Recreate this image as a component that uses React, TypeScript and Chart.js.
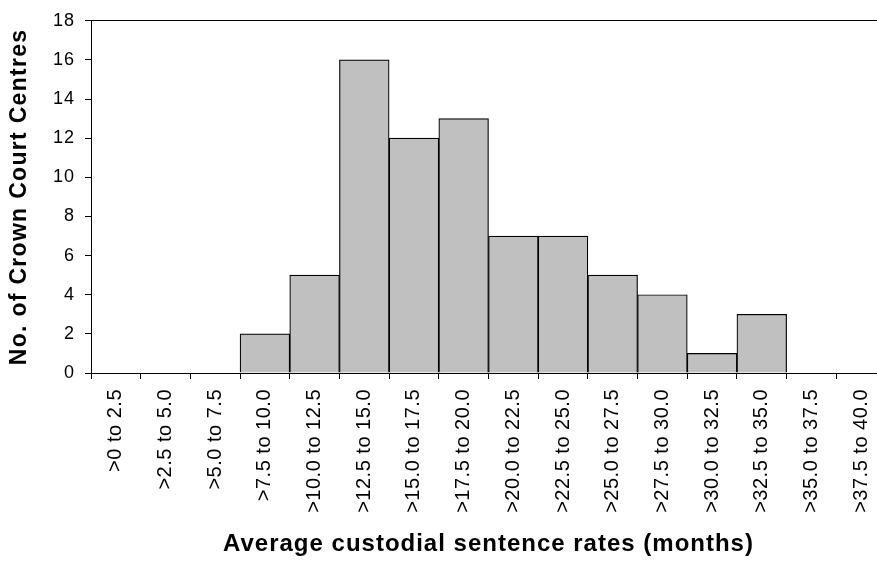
import React, { useEffect, useRef } from "react";
import { Chart, registerables } from "chart.js";

Chart.register(...registerables);

const categories = [
  ">0 to 2.5", ">2.5 to 5.0", ">5.0 to 7.5", ">7.5 to 10.0",
  ">10.0 to 12.5", ">12.5 to 15.0", ">15.0 to 17.5", ">17.5 to 20.0",
  ">20.0 to 22.5", ">22.5 to 25.0", ">25.0 to 27.5", ">27.5 to 30.0",
  ">30.0 to 32.5", ">32.5 to 35.0", ">35.0 to 37.5", ">37.5 to 40.0",
];
const centreCounts = [0, 0, 0, 2, 5, 16, 12, 13, 7, 7, 5, 4, 1, 3, 0, 0];
const yMin = 0;
const yMax = 18;
const yStep = 2;
const xTitle = "Average custodial sentence rates (months)";
const yTitle = "No. of Crown Court Centres";

const FONT = "'Liberation Sans', Arial, Helvetica, sans-serif";

const spacingPlugin = {
  id: "letterSpacingPlugin",
  beforeDraw(chart: any) {
    const wrap = (scale: any, fn: string, sp: string) => {
      if (!scale) return;
      const key = "__wrapped_" + fn;
      if (scale[key]) return;
      const orig = scale[fn].bind(scale);
      scale[fn] = (...args: any[]) => {
        const ctx = chart.ctx;
        ctx.save();
        (ctx as any).letterSpacing = sp;
        orig(...args);
        ctx.restore();
      };
      scale[key] = true;
    };
    wrap(chart.scales.x, "drawLabels", "0.5px");
    wrap(chart.scales.x, "drawTitle", "1px");
    wrap(chart.scales.y, "drawLabels", "1px");
    wrap(chart.scales.y, "drawTitle", "1.3px");
  },
};

export default function App() {
  const ref = useRef<HTMLCanvasElement | null>(null);

  useEffect(() => {
    if (!ref.current) return;
    const chart = new Chart(ref.current, {
      type: "bar",
      data: {
        labels: categories,
        datasets: [
          {
            data: centreCounts,
            backgroundColor: "#C0C0C0",
            borderColor: "#000000",
            borderWidth: 1.2,
            barPercentage: 1,
            categoryPercentage: 1,
          },
        ],
      },
      plugins: [spacingPlugin],
      options: {
        animation: false,
        responsive: false,
        devicePixelRatio: 1,
        layout: { padding: { left: 0, top: 19, right: 14, bottom: 0 } },
        plugins: {
          legend: { display: false },
          tooltip: { enabled: false },
          title: { display: false },
        },
        scales: {
          x: {
            type: "category",
            position: "bottom",
            offset: true,
            afterFit: (s: any) => {
              s.height = 190;
            },
            grid: {
              display: true,
              drawOnChartArea: false,
              drawTicks: true,
              tickLength: 6,
              color: "#000000",
              tickColor: "#000000",
              offset: true,
            },
            border: { display: true, color: "#000000", width: 1 },
            ticks: {
              autoSkip: false,
              minRotation: 90,
              maxRotation: 90,
              padding: 10,
              color: "#000000",
              font: { family: FONT, size: 20 },
            },
            title: {
              display: true,
              text: xTitle,
              color: "#000000",
              font: { family: FONT, size: 24, weight: "bold" },
              padding: { top: 0, bottom: 4 },
            },
          },
          x2: {
            type: "category",
            axis: "x",
            position: "top",
            afterFit: (s: any) => {
              s.height = 0;
            },
            grid: { display: false },
            ticks: { display: false },
            border: { display: true, color: "#000000", width: 1 },
          },
          y: {
            type: "linear",
            position: "left",
            min: yMin,
            max: yMax,
            afterFit: (s: any) => {
              s.width = 91;
            },
            grid: {
              display: true,
              drawOnChartArea: false,
              drawTicks: true,
              tickLength: 6,
              color: "#000000",
              tickColor: "#000000",
            },
            border: { display: true, color: "#000000", width: 1 },
            ticks: {
              stepSize: yStep,
              padding: 10,
              color: "#000000",
              font: { family: FONT, size: 18 },
            },
            title: {
              display: true,
              text: yTitle,
              color: "#000000",
              font: { family: FONT, size: 23, weight: "bold" },
              padding: { top: 6, bottom: 0 },
            },
          },
        },
      },
    } as any);
    return () => chart.destroy();
  }, []);

  return (
    <div
      style={{
        position: "fixed",
        left: 0,
        top: 0,
        width: 877,
        height: 563,
        overflow: "hidden",
        background: "#ffffff",
      }}
    >
      <canvas
        ref={ref}
        width={900}
        height={563}
        style={{ display: "block", width: 900, height: 563 }}
      />
    </div>
  );
}
